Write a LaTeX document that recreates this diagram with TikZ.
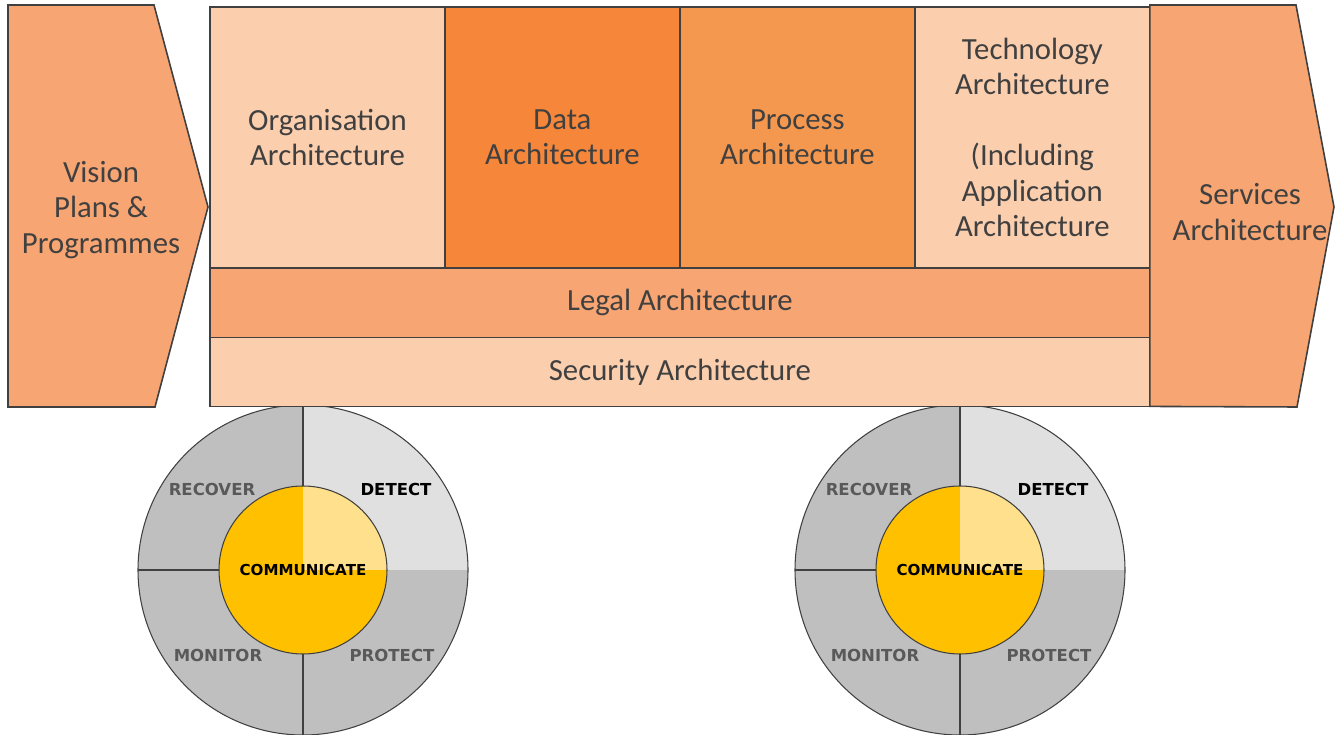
\documentclass[tikz,border=0pt]{standalone}
\usepackage{fontspec}
\setmainfont{Carlito}
\newfontfamily\wheelfont{DejaVu Sans}
\usetikzlibrary{positioning}

\definecolor{peach}{HTML}{FBCEAE}
\definecolor{salmon}{HTML}{F7A572}
\definecolor{dataorange}{HTML}{F5863A}
\definecolor{procorange}{HTML}{F5984F}
\definecolor{edgegray}{HTML}{404040}
\definecolor{textgray}{HTML}{404040}
\definecolor{quadgray}{HTML}{BFBFBF}
\definecolor{detectgray}{HTML}{E0E0E0}
\definecolor{commyellow}{HTML}{FFC000}
\definecolor{commlight}{HTML}{FFE08C}
\definecolor{wheelgray}{HTML}{595959}

\begin{document}
\begin{tikzpicture}[
        x=0.02cm, y=0.02cm,
        node distance=0pt,
        archbox/.style={rectangle, draw=edgegray, line width=0.9pt, fill=peach, outer sep=0pt, minimum width=4.7cm, minimum height=5.22cm, align=center, text=textgray, font=\fontsize{17.5}{20.2}\selectfont},
        barbox/.style={archbox, minimum width=18.8cm, minimum height=1.39cm},
        chevron/.style={draw=edgegray, line width=0.9pt, fill=salmon, line join=miter},
        chevtext/.style={align=center, text=textgray, font=\fontsize{17.5}{20.4}\selectfont},
        wheelline/.style={draw=edgegray, line width=0.6pt},
        wheeltext/.style={text=wheelgray, font=\wheelfont\bfseries\fontsize{9.4}{10}\selectfont},
    ]
        \useasboundingbox (0,0) rectangle (1336,734);

        % the two response wheels
        \foreach \cx/\nm in {303/a, 960/b} {
            \coordinate (hub\nm) at (\cx,164);
            \fill[quadgray] (hub\nm) circle (165);
            \fill[detectgray] (hub\nm) -- ++(165,0) arc (0:90:165) -- cycle;
            \fill[commyellow] (hub\nm) circle (84);
            \fill[commlight] (hub\nm) -- ++(84,0) arc (0:90:84) -- cycle;
            \draw[wheelline] (hub\nm) circle (165);
            \draw[wheelline] (hub\nm) circle (84);
            \draw[wheelline] ([shift={(-165,0)}]hub\nm) -- ([shift={(-84,0)}]hub\nm);
            \draw[wheelline] ([shift={(0,165)}]hub\nm) -- ([shift={(0,84)}]hub\nm);
            \draw[wheelline] ([shift={(0,-84)}]hub\nm) -- ([shift={(0,-165)}]hub\nm);
            \node[wheeltext] (recover\nm) at ([shift={(-91,81)}]hub\nm) {RECOVER};
            \node[wheeltext, text=black] (detect\nm) at ([shift={(93,81)}]hub\nm) {DETECT};
            \node[wheeltext, text=black, font=\wheelfont\bfseries\fontsize{8.6}{10}\selectfont] (comm\nm) at (hub\nm) {COMMUNICATE};
            \node[wheeltext] (monitor\nm) at ([shift={(-85,-85)}]hub\nm) {MONITOR};
            \node[wheeltext] (protect\nm) at ([shift={(89,-85)}]hub\nm) {PROTECT};
        }

        % architecture block
        \node[archbox, anchor=north west] (org) at (210,727) {Organisation\\Architecture};
        \node[archbox, fill=dataorange, right=of org] (data) {Data\\Architecture};
        \node[archbox, fill=procorange, right=of data] (proc) {Process\\Architecture};
        \node[archbox, right=of proc] (tech) {Technology\\Architecture\\[20.2pt](Including\\Application\\Architecture};
        \node[barbox, fill=salmon, below=of org.south west, anchor=north west] (legal) {Legal Architecture};
        \node[barbox, minimum height=1.38cm, below=of legal] (security) {Security Architecture};

        % chevrons either side
        \draw[chevron] (8,729) -- (154,729) -- (208,527) -- (155,327) -- (8,327) -- cycle;
        \node[chevtext] (vision) at (101,524) {Vision\\Plans \&\\Programmes};
        \draw[chevron] (security.south east) -- (tech.north east |- 0,729) -- (1296,729) -- (1334,527) -- (1297,327) -- cycle;
        \node[chevtext] (services) at (1250,522) {Services\\Architecture};
    \end{tikzpicture}
\end{document}
